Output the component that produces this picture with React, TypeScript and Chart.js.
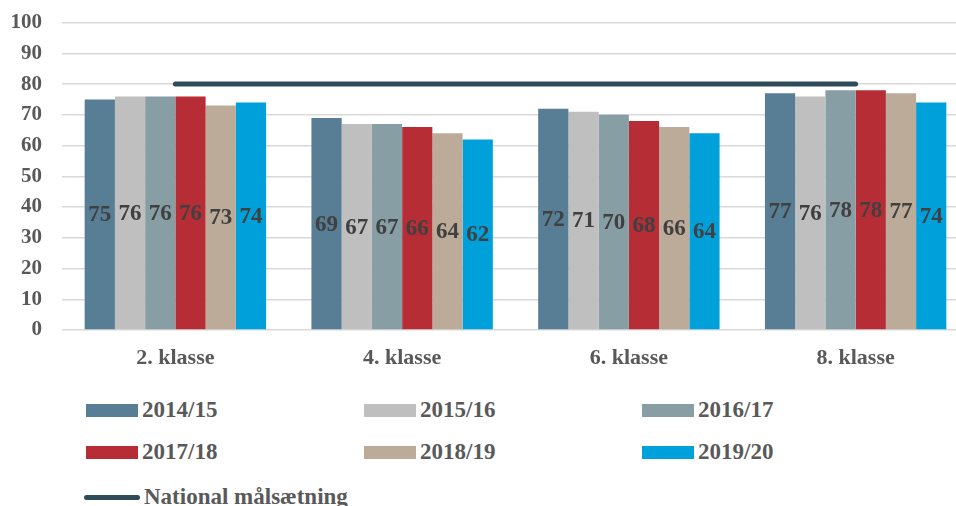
import React, { useEffect, useRef } from "react";
import { Chart, registerables } from "chart.js";

Chart.register(...registerables);

const categories = ["2. klasse", "4. klasse", "6. klasse", "8. klasse"];
const seriesLabels = ["2014/15", "2015/16", "2016/17", "2017/18", "2018/19", "2019/20"];
const seriesColors = ["#577e94", "#bfbfbf", "#889ea5", "#b72d36", "#bcab98", "#00a1da"];
const s2014 = [75, 69, 72, 77];
const s2015 = [76, 67, 71, 76];
const s2016 = [76, 67, 70, 78];
const s2017 = [76, 66, 68, 78];
const s2018 = [73, 64, 66, 77];
const s2019 = [74, 62, 64, 74];
const seriesValues = [s2014, s2015, s2016, s2017, s2018, s2019];
const targetLabel = "National målsætning";
const targetValues = [80, 80, 80, 80];
const targetColor = "#2f4a59";
const yTicks = [0, 10, 20, 30, 40, 50, 60, 70, 80, 90, 100];

const FONT = "'Liberation Serif', 'Times New Roman', serif";
const TEXT = "#595959";

const labelPlugin = {
  id: "barLabels",
  afterDatasetsDraw(chart: any) {
    const ctx = chart.ctx;
    ctx.save();
    ctx.font = `bold 23px ${FONT}`;
    ctx.fillStyle = "#404040";
    ctx.textAlign = "center";
    ctx.textBaseline = "middle";
    chart.data.datasets.forEach((ds: any, i: number) => {
      if (ds.type === "line") return;
      const meta = chart.getDatasetMeta(i);
      meta.data.forEach((el: any, j: number) => {
        const y = (el.y + el.base) / 2;
        ctx.fillText(String(ds.data[j]), el.x, y + 1);
      });
    });
    ctx.restore();
  },
};

export default function App() {
  const ref = useRef<HTMLCanvasElement>(null);
  useEffect(() => {
    if (!ref.current) return;
    const datasets: any[] = [
      {
        type: "line",
        label: targetLabel,
        data: targetValues,
        borderColor: targetColor,
        backgroundColor: targetColor,
        borderWidth: 5,
        borderCapStyle: "round",
        pointRadius: 0,
        order: 0,
      },
      ...seriesLabels.map((l, i) => ({
        type: "bar",
        label: l,
        data: seriesValues[i],
        backgroundColor: seriesColors[i],
        borderWidth: 0,
        categoryPercentage: 0.8,
        barPercentage: 1.0,
        order: 1,
      })),
    ];
    const chart = new Chart(ref.current, {
      type: "bar",
      data: { labels: categories, datasets },
      options: {
        responsive: false,
        animation: false,
        layout: { padding: { top: 13, right: 1, left: 0, bottom: 0 } },
        plugins: { legend: { display: false }, tooltip: { enabled: false } },
        scales: {
          x: {
            grid: { display: false, drawTicks: false },
            border: { display: false },
            ticks: { color: TEXT, font: { family: FONT, size: 22, weight: "bold" }, padding: 15 },
            afterFit(scale: any) {
              scale.height = 60;
            },
          },
          y: {
            min: 0,
            max: 100,
            afterBuildTicks(scale: any) {
              scale.ticks = yTicks.map((v) => ({ value: v }));
            },
            grid: { color: "#d9d9d9", lineWidth: 1.5, drawTicks: false },
            border: { display: false },
            ticks: { color: TEXT, font: { family: FONT, size: 21, weight: "bold" }, padding: 20 },
            afterFit(scale: any) {
              scale.width = 62;
            },
          },
        },
      } as any,
      plugins: [labelPlugin],
    });
    return () => chart.destroy();
  }, []);

  const cols = [86, 364, 642];
  const rows = [410, 452];
  return (
    <div style={{ position: "fixed", left: 0, top: 0, width: 970, height: 506, background: "#fff", overflow: "hidden" }}>
      <canvas ref={ref} width={970} height={400} style={{ position: "absolute", left: 0, top: -10 }} />
      {seriesLabels.map((l, i) => {
        const x = cols[i % 3];
        const y = rows[Math.floor(i / 3)];
        return (
          <div key={l} style={{ position: "absolute", left: x, top: y - 13, height: 26, display: "flex", alignItems: "center", fontFamily: FONT, fontWeight: "bold", fontSize: 23, color: TEXT, whiteSpace: "nowrap" }}>
            <span style={{ display: "inline-block", width: 52, height: 13, background: seriesColors[i], marginRight: 4 }} />
            <span>{l}</span>
          </div>
        );
      })}
      <div style={{ position: "absolute", left: 84, top: 497 - 13, height: 26, display: "flex", alignItems: "center", fontFamily: FONT, fontWeight: "bold", fontSize: 23, color: TEXT, whiteSpace: "nowrap" }}>
        <span style={{ display: "inline-block", width: 56, height: 5, borderRadius: 3, background: targetColor, marginRight: 4 }} />
        <span>{targetLabel}</span>
      </div>
    </div>
  );
}
